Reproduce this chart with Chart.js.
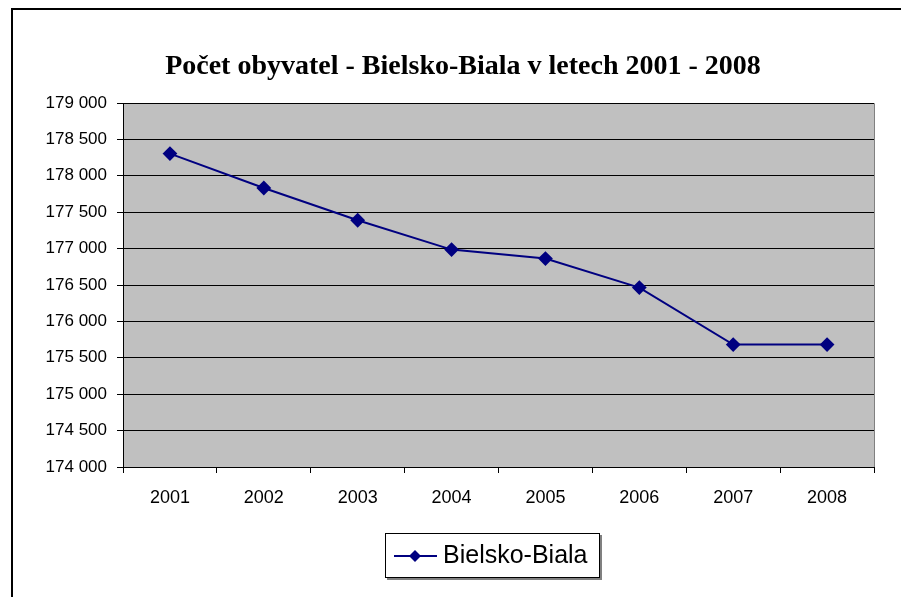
<!DOCTYPE html>
<html>
<head>
<meta charset="utf-8">
<script src="https://cdn.jsdelivr.net/npm/chart.js@4.4.0/dist/chart.umd.min.js"></script>
<style>
  html, body { margin: 0; padding: 0; background: #fff; }
  canvas { display: block; }
</style>
</head>
<body>
<canvas id="popChart" width="901" height="597"></canvas>
<script>
// data
const years = ['2001', '2002', '2003', '2004', '2005', '2006', '2007', '2008'];
const population = [178305, 177832, 177389, 176986, 176863, 176464, 175681, 175681];
const seriesName = 'Bielsko-Biala';
const chartTitle = 'Počet obyvatel - Bielsko-Biala v letech 2001 - 2008';
const yMin = 174000, yMax = 179000, yStep = 500;

const navy = '#000080';

// gray plot background + outer frame + title + boxed legend
const decor = {
  id: 'decor',
  beforeDraw(chart) {
    const { ctx, chartArea: a } = chart;
    ctx.save();
    ctx.fillStyle = '#c0c0c0';
    ctx.fillRect(a.left, a.top, a.right - a.left, a.bottom - a.top);
    // plot border top/right
    ctx.strokeStyle = '#808080';
    ctx.lineWidth = 1;
    ctx.beginPath();
    ctx.moveTo(a.left, a.top + 0.5);
    ctx.lineTo(a.right + 0.5, a.top + 0.5);
    ctx.lineTo(a.right + 0.5, a.bottom);
    ctx.stroke();
    ctx.restore();
  },
  afterDraw(chart) {
    const { ctx } = chart;
    ctx.save();
    // outer frame (runs off the right and bottom)
    ctx.strokeStyle = '#000';
    ctx.lineWidth = 2;
    ctx.beginPath();
    ctx.moveTo(12, 597);
    ctx.lineTo(12, 9);
    ctx.lineTo(901, 9);
    ctx.stroke();

    // title
    ctx.fillStyle = '#000';
    ctx.font = 'bold 28px "Liberation Serif", "Times New Roman", serif';
    ctx.textAlign = 'center';
    ctx.textBaseline = 'alphabetic';
    ctx.fillText(chartTitle, 463, 74);

    // legend box
    ctx.fillStyle = '#808080';
    ctx.fillRect(387, 535, 215, 45);
    ctx.fillStyle = '#fff';
    ctx.fillRect(385, 533, 215, 45);
    ctx.strokeStyle = '#000';
    ctx.lineWidth = 1;
    ctx.strokeRect(385.5, 533.5, 214, 44);
    ctx.strokeStyle = navy;
    ctx.lineWidth = 2;
    ctx.beginPath();
    ctx.moveTo(394, 556);
    ctx.lineTo(437, 556);
    ctx.stroke();
    ctx.fillStyle = navy;
    ctx.beginPath();
    ctx.moveTo(415, 550);
    ctx.lineTo(421, 556);
    ctx.lineTo(415, 562);
    ctx.lineTo(409, 556);
    ctx.closePath();
    ctx.fill();
    ctx.fillStyle = '#000';
    ctx.font = '25px "Liberation Sans", Arial, sans-serif';
    ctx.textAlign = 'left';
    ctx.textBaseline = 'middle';
    ctx.fillText(seriesName, 443, 556);
    ctx.restore();
  }
};

new Chart(document.getElementById('popChart'), {
  type: 'line',
  data: {
    labels: years,
    datasets: [{
      label: seriesName,
      data: population,
      borderColor: navy,
      backgroundColor: navy,
      borderWidth: 2,
      pointStyle: 'rectRot',
      pointRadius: 6,
      pointHoverRadius: 6,
      tension: 0
    }]
  },
  options: {
    responsive: false,
    animation: false,
    events: [],
    layout: { padding: { top: 103, right: 27, bottom: 0, left: 0 } },
    plugins: {
      legend: { display: false },
      title: { display: false },
      tooltip: { enabled: false }
    },
    scales: {
      x: {
        offset: true,
        grid: {
          offset: true,
          drawOnChartArea: false,
          color: '#000',
          tickLength: 6,
          tickColor: '#000'
        },
        border: { color: '#000', width: 1 },
        ticks: {
          color: '#000',
          padding: 14,
          maxRotation: 0,
          font: { family: '"Liberation Sans", Arial, sans-serif', size: 18 }
        },
        afterFit(axis) { axis.height = 130; }
      },
      y: {
        min: yMin,
        max: yMax,
        grid: {
          color: '#000',
          tickLength: 6,
          tickColor: '#000'
        },
        border: { color: '#000', width: 1 },
        ticks: {
          stepSize: yStep,
          color: '#000',
          padding: 10,
          font: { family: '"Liberation Sans", Arial, sans-serif', size: 17 },
          callback: v => String(v).replace(/\B(?=(\d{3})+(?!\d))/g, ' ')
        },
        afterFit(axis) { axis.width = 123; }
      }
    }
  },
  plugins: [decor]
});
</script>
</body>
</html>
